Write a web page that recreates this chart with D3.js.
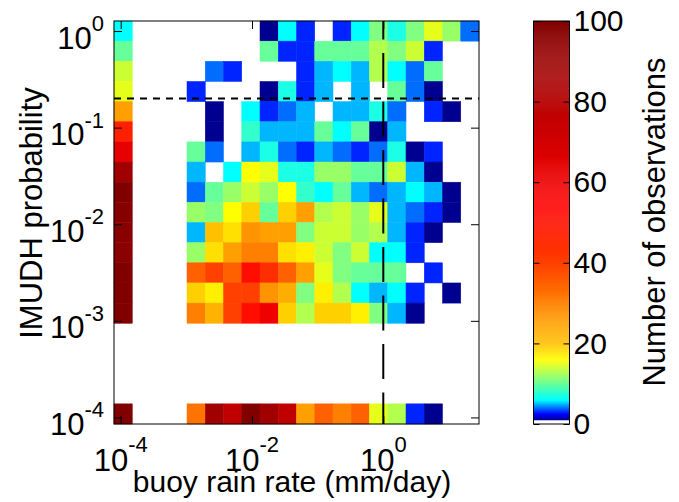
<!DOCTYPE html>
<html>
<head>
<meta charset="utf-8">
<script src="https://cdn.jsdelivr.net/npm/d3@7"></script>
<style>
  body { margin: 0; background: #fff; }
  svg { display: block; }
</style>
</head>
<body>
<div id="chart"></div>
<script>
// tick values
let rainTicks = [1e-4, 1e-2, 1];
let probTicks = [1e-4, 1e-3, 1e-2, 1e-1, 1];
let obsTicks = [0, 20, 40, 60, 80, 100];

// reference lines
let probLine = 0.2;
let rainLine = 1;

// number of observations, top row = highest IMUDH probability, left col = lowest rain rate
let counts = [
  [6,0,0,0,0,0,0,0,1,6,3,0,3,6,11,7,11,15,12,4],
  [10,0,0,0,0,0,0,0,10,3,3,10,10,10,13,11,14,3,0,0],
  [14,0,0,0,0,4,3,0,0,0,3,5,6,5,13,6,4,10,0,0],
  [15,0,0,0,3,0,0,0,1,7,3,5,0,5,0,10,4,1,0,0],
  [25,0,0,0,0,1,0,6,3,4,5,0,5,5,7,4,0,3,1,0],
  [47,0,0,0,0,1,0,8,5,5,5,10,6,10,1,5,0,0,0,0],
  [63,0,0,0,10,4,0,5,7,4,3,5,4,3,4,7,1,3,0,0],
  [88,0,0,0,5,0,6,16,15,7,7,12,12,10,10,14,5,1,0,0],
  [100,0,0,0,4,10,12,14,12,16,8,6,10,5,4,5,6,5,1,0],
  [98,0,0,0,12,11,16,19,10,19,25,13,14,12,15,5,4,3,1,0],
  [97,0,0,0,5,20,18,27,25,25,11,14,14,12,13,5,3,1,0,0],
  [96,0,0,0,12,18,25,30,30,18,17,14,11,14,6,6,3,0,0,0],
  [100,0,0,0,35,40,35,51,44,35,25,15,11,10,10,10,0,3,0,0],
  [100,0,0,0,19,17,40,40,27,23,11,17,13,6,5,6,3,0,1,0],
  [100,0,0,0,30,22,40,51,59,19,13,19,19,17,11,5,1,0,0,0],
  [0,0,0,0,0,0,0,0,0,0,0,0,0,0,0,0,0,0,0,0],
  [0,0,0,0,0,0,0,0,0,0,0,0,0,0,0,0,0,0,0,0],
  [0,0,0,0,0,0,0,0,0,0,0,0,0,0,0,0,0,0,0,0],
  [0,0,0,0,0,0,0,0,0,0,0,0,0,0,0,0,0,0,0,0],
  [100,0,0,0,32,88,77,100,88,77,25,35,30,35,15,13,3,1,0,0]
];

// colormap (white for zero, then jet-like)
let cmapVals = [1, 2.5, 6, 16, 20, 40, 54, 100];
let cmapCols = ["#000090", "#0000ff", "#00ffff", "#ffff00", "#ffc000", "#ff4000", "#ff0000", "#800000"];

// 1. layout
let width = 679;
let height = 502;
let margin = {"top": 21, "bottom": 78, "left": 114, "right": 200};
let cb = {"x0": 533.5, "x1": 569.5};
let xLog = [-4.102, 1.458];
let yLog = [-4.068, 0.104];
let nCol = counts[0].length;
let nRow = counts.length;
let font = "'Liberation Sans', Arial, Helvetica, sans-serif";

// 2. svg
let svg = d3.select("#chart")
  .append("svg")
  .attr("width", width)
  .attr("height", height);

// 3. scales
let xScale = d3.scaleLog()
  .domain([Math.pow(10, xLog[0]), Math.pow(10, xLog[1])])
  .range([margin.left, width - margin.right]);
let yScale = d3.scaleLog()
  .domain([Math.pow(10, yLog[0]), Math.pow(10, yLog[1])])
  .range([height - margin.bottom, margin.top]);
let cScale = d3.scaleLinear()
  .domain(cmapVals)
  .range(cmapCols)
  .clamp(true);
function color(v) { return v < 1 ? "#ffffff" : cScale(v); }
let cbScale = d3.scaleLinear()
  .domain([0, 100])
  .range([height - margin.bottom, margin.top]);

let x0 = xScale.range()[0], x1 = xScale.range()[1];
let y0 = yScale.range()[1], y1 = yScale.range()[0];

// 4. cells
let colStep = (xLog[1] - xLog[0]) / nCol;
let rowStep = (yLog[1] - yLog[0]) / nRow;
let cells = [];
counts.forEach(function(row, i) {
  row.forEach(function(v, j) {
    if (v > 0) cells.push({"row": i, "col": j, "v": v});
  });
});

function colEdge(j) { return xScale(Math.pow(10, xLog[0] + j * colStep)); }
function rowEdge(i) { return yScale(Math.pow(10, yLog[1] - i * rowStep)); }

svg.append("g")
  .selectAll("rect")
  .data(cells)
  .enter()
  .append("rect")
  .attr("x", function(d) { return colEdge(d.col); })
  .attr("width", function(d) { return colEdge(d.col + 1) - colEdge(d.col); })
  .attr("y", function(d) { return rowEdge(d.row); })
  .attr("height", function(d) { return rowEdge(d.row + 1) - rowEdge(d.row); })
  .attr("fill", function(d) { return color(d.v); })
  .attr("stroke", function(d) { return color(d.v); })
  .attr("stroke-width", 0.5);

// 5. reference lines
svg.append("line")
  .attr("x1", x0).attr("x2", x1)
  .attr("y1", yScale(probLine)).attr("y2", yScale(probLine))
  .attr("stroke", "#000")
  .attr("stroke-width", 2)
  .attr("stroke-dasharray", "7,6");

svg.append("line")
  .attr("x1", xScale(rainLine)).attr("x2", xScale(rainLine))
  .attr("y1", y0).attr("y2", y1)
  .attr("stroke", "#000")
  .attr("stroke-width", 2)
  .attr("stroke-dasharray", "35,13.5")
  .attr("stroke-dashoffset", 16.5);

// 6. axes (ticks inside, on all four sides)
function expOf(v) { return String(Math.round(Math.log10(v))); }

svg.append("g")
  .attr("transform", "translate(0," + y1 + ")")
  .call(d3.axisBottom(xScale).tickValues(rainTicks).tickSizeInner(-8).tickSizeOuter(0).tickFormat(""))
  .call(function(g) { g.select(".domain").remove(); });
svg.append("g")
  .attr("transform", "translate(0," + y0 + ")")
  .call(d3.axisTop(xScale).tickValues(rainTicks).tickSizeInner(-8).tickSizeOuter(0).tickFormat(""))
  .call(function(g) { g.select(".domain").remove(); });
svg.append("g")
  .attr("transform", "translate(" + x0 + ",0)")
  .call(d3.axisLeft(yScale).tickValues(probTicks).tickSizeInner(-8).tickSizeOuter(0).tickFormat(""))
  .call(function(g) { g.select(".domain").remove(); });
svg.append("g")
  .attr("transform", "translate(" + x1 + ",0)")
  .call(d3.axisRight(yScale).tickValues(probTicks).tickSizeInner(-8).tickSizeOuter(0).tickFormat(""))
  .call(function(g) { g.select(".domain").remove(); });

svg.selectAll(".tick line").attr("stroke", "#000");

// box
svg.append("rect")
  .attr("x", x0).attr("y", y0)
  .attr("width", x1 - x0).attr("height", y1 - y0)
  .attr("fill", "none")
  .attr("stroke", "#000")
  .attr("stroke-width", 1);

// tick labels 10^n
let xl = svg.append("g")
  .selectAll("text")
  .data(rainTicks)
  .enter()
  .append("text")
  .attr("x", function(d) { return xScale(d); })
  .attr("y", y1 + 46.5)
  .attr("text-anchor", "middle")
  .attr("font-family", font)
  .attr("font-size", "31px");
xl.append("tspan").text("10");
xl.append("tspan").attr("dy", -18.5).attr("font-size", "22px").text(expOf);

let yl = svg.append("g")
  .selectAll("text")
  .data(probTicks)
  .enter()
  .append("text")
  .attr("x", x0 - 10)
  .attr("y", function(d) { return yScale(d) + 17.5; })
  .attr("text-anchor", "end")
  .attr("font-family", font)
  .attr("font-size", "31px");
yl.append("tspan").text("10");
yl.append("tspan").attr("dy", -17.5).attr("font-size", "22px").text(expOf);

// axis titles
svg.append("text")
  .attr("x", 292)
  .attr("y", 492)
  .attr("text-anchor", "middle")
  .attr("font-family", font)
  .attr("font-size", "30px")
  .text("buoy rain rate (mm/day)");

svg.append("text")
  .attr("transform", "translate(42,213) rotate(-90)")
  .attr("text-anchor", "middle")
  .attr("font-family", font)
  .attr("font-size", "31px")
  .text("IMUDH probability");

// 7. colorbar
let steps = d3.range(0, 100, 0.25);
svg.append("g")
  .selectAll("rect")
  .data(steps)
  .enter()
  .append("rect")
  .attr("x", cb.x0)
  .attr("width", cb.x1 - cb.x0)
  .attr("y", function(d) { return cbScale(d + 0.25); })
  .attr("height", cbScale(0) - cbScale(0.25) + 0.3)
  .attr("fill", function(d) { return color(d + 0.125); });

svg.append("rect")
  .attr("x", cb.x0).attr("y", cbScale(100))
  .attr("width", cb.x1 - cb.x0).attr("height", cbScale(0) - cbScale(100))
  .attr("fill", "none")
  .attr("stroke", "#000")
  .attr("stroke-width", 1);

svg.append("g")
  .attr("transform", "translate(" + cb.x0 + ",0)")
  .call(d3.axisLeft(cbScale).tickValues(obsTicks).tickSizeInner(-6).tickSizeOuter(0).tickFormat(""))
  .call(function(g) { g.select(".domain").remove(); });

svg.append("g")
  .attr("transform", "translate(" + cb.x1 + ",0)")
  .call(d3.axisRight(cbScale).tickValues(obsTicks).tickSizeInner(-6).tickSizeOuter(0).tickPadding(4))
  .call(function(g) { g.select(".domain").remove(); })
  .attr("font-family", font)
  .attr("font-size", "30px")
  .call(function(g) { g.selectAll("text").attr("fill", "#000"); });

svg.selectAll(".tick line").attr("stroke", "#000");

svg.append("text")
  .attr("transform", "translate(665,222) rotate(-90)")
  .attr("text-anchor", "middle")
  .attr("font-family", font)
  .attr("font-size", "31px")
  .text("Number of observations");
</script>
</body>
</html>
